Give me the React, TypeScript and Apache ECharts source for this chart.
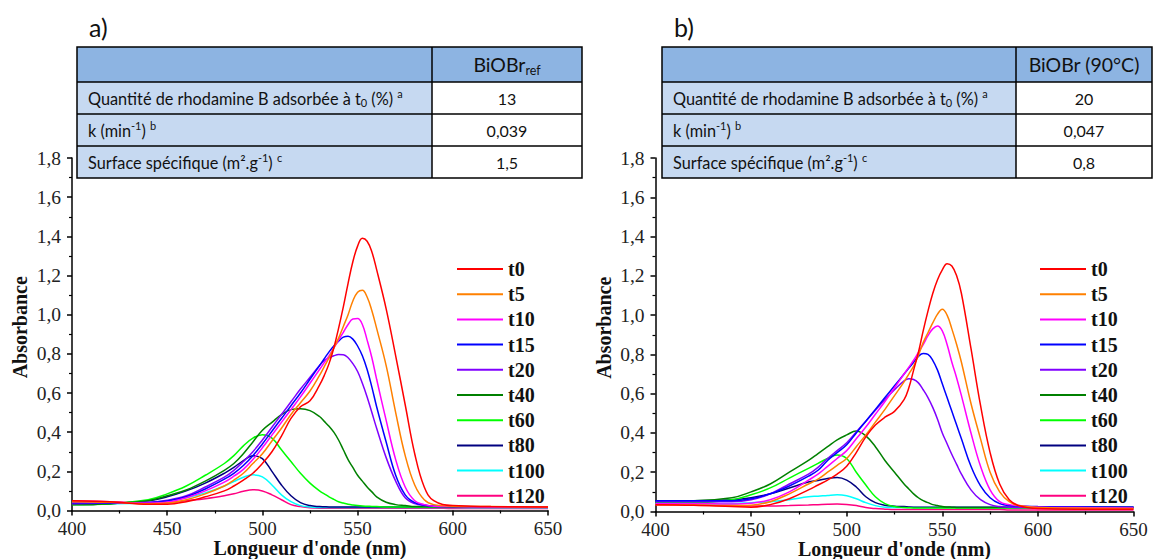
import React, { useEffect, useRef } from 'react';
import * as echarts from 'echarts';

const wavelengths = [400, 420, 440, 450, 460, 470, 480, 485, 490, 495, 500, 505, 510, 515, 520, 525, 530, 532.5, 535, 537.5, 540, 542.5, 545, 547.5, 550, 552.5, 555, 557.5, 560, 565, 570, 575, 580, 585, 590, 600, 620, 650];
const seriesNames = ['t0', 't5', 't10', 't15', 't20', 't40', 't60', 't80', 't100', 't120'];
const seriesColors = ['#FF0000', '#FF8000', '#FF00FF', '#0000FF', '#8000FF', '#008000', '#00FF00', '#000080', '#00FFFF', '#FF0080'];
const yTickLabels = ['0,0', '0,2', '0,4', '0,6', '0,8', '1,0', '1,2', '1,4', '1,6', '1,8'];

// Panel a) BiOBr_ref
const aT0 = [0.05, 0.045, 0.032, 0.032, 0.045, 0.07, 0.1, 0.125, 0.155, 0.19, 0.24, 0.3, 0.38, 0.47, 0.53, 0.56, 0.64,
  0.69, 0.75, 0.83, 0.93, 1.04, 1.16, 1.27, 1.35, 1.39, 1.375, 1.32, 1.23,
  1.03, 0.79, 0.54, 0.29, 0.12, 0.05, 0.025, 0.02, 0.018];
const aT5 = [0.045, 0.042, 0.035, 0.038, 0.055, 0.085, 0.125, 0.155, 0.19, 0.24, 0.29, 0.355, 0.42, 0.49, 0.55, 0.61, 0.69,
  0.735, 0.78, 0.83, 0.88, 0.94, 1.0, 1.07, 1.115, 1.125, 1.09, 1.02, 0.93,
  0.74, 0.5, 0.28, 0.13, 0.055, 0.03, 0.022, 0.02, 0.018];
const aT10 = [0.045, 0.042, 0.038, 0.043, 0.065, 0.1, 0.145, 0.175, 0.21, 0.26, 0.32, 0.385, 0.45, 0.515, 0.58, 0.65, 0.72,
  0.755, 0.79, 0.83, 0.87, 0.91, 0.95, 0.978, 0.98, 0.95, 0.87, 0.78, 0.67,
  0.46, 0.26, 0.12, 0.05, 0.03, 0.022, 0.02, 0.018, 0.016];
const aT15 = [0.04, 0.04, 0.04, 0.048, 0.07, 0.11, 0.16, 0.19, 0.23, 0.28, 0.34, 0.405, 0.47, 0.535, 0.6, 0.67, 0.74,
  0.775, 0.81, 0.84, 0.865, 0.885, 0.89, 0.875, 0.84, 0.79, 0.72, 0.63, 0.53,
  0.35, 0.18, 0.08, 0.04, 0.028, 0.022, 0.02, 0.018, 0.016];
const aT20 = [0.035, 0.038, 0.042, 0.052, 0.075, 0.12, 0.17, 0.205, 0.25, 0.3, 0.36, 0.425, 0.49, 0.555, 0.62, 0.68, 0.74,
  0.765, 0.78, 0.79, 0.796, 0.795, 0.78, 0.75, 0.71, 0.65, 0.58, 0.5, 0.42,
  0.27, 0.15, 0.065, 0.035, 0.025, 0.022, 0.02, 0.018, 0.016];
const aT40 = [0.03, 0.035, 0.05, 0.075, 0.105, 0.15, 0.205, 0.24, 0.29, 0.35, 0.41, 0.45, 0.49, 0.515, 0.52, 0.51, 0.48,
  0.455, 0.43, 0.4, 0.36, 0.31, 0.26, 0.22, 0.18, 0.15, 0.12, 0.095, 0.07,
  0.042, 0.03, 0.025, 0.02, 0.02, 0.02, 0.018, 0.018, 0.016];
const aT60 = [0.03, 0.035, 0.055, 0.085, 0.125, 0.18, 0.24, 0.28, 0.33, 0.37, 0.387, 0.37, 0.31, 0.25, 0.19, 0.14, 0.1,
  0.085, 0.07, 0.057, 0.045, 0.038, 0.032, 0.028, 0.025, 0.023, 0.022, 0.021, 0.02,
  0.018, 0.018, 0.018, 0.018, 0.018, 0.018, 0.018, 0.016, 0.016];
const aT80 = [0.03, 0.035, 0.05, 0.07, 0.1, 0.14, 0.19, 0.22, 0.255, 0.28, 0.265, 0.2, 0.13, 0.075, 0.04, 0.025, 0.02,
  0.019, 0.018, 0.018, 0.018, 0.018, 0.018, 0.018, 0.018, 0.018, 0.018, 0.018, 0.018,
  0.018, 0.018, 0.018, 0.018, 0.018, 0.018, 0.018, 0.016, 0.016];
const aT100 = [0.035, 0.035, 0.04, 0.05, 0.065, 0.09, 0.125, 0.148, 0.17, 0.182, 0.172, 0.13, 0.08, 0.045, 0.025, 0.018, 0.015,
  0.015, 0.015, 0.015, 0.015, 0.015, 0.015, 0.015, 0.015, 0.015, 0.015, 0.015, 0.015,
  0.015, 0.015, 0.015, 0.015, 0.015, 0.015, 0.015, 0.014, 0.014];
const aT120 = [0.05, 0.045, 0.038, 0.04, 0.05, 0.06, 0.075, 0.085, 0.098, 0.106, 0.1, 0.08, 0.055, 0.03, 0.02, 0.014, 0.012,
  0.012, 0.012, 0.012, 0.012, 0.012, 0.012, 0.012, 0.012, 0.012, 0.012, 0.012, 0.012,
  0.012, 0.012, 0.012, 0.012, 0.012, 0.012, 0.01, 0.01, 0.01];

// Panel b) BiOBr (90°C)
const bT0 = [0.035, 0.032, 0.025, 0.022, 0.035, 0.065, 0.11, 0.135, 0.16, 0.19, 0.23, 0.3, 0.38, 0.44, 0.48, 0.51, 0.57,
  0.63, 0.72, 0.81, 0.92, 1.02, 1.11, 1.18, 1.23, 1.262, 1.25, 1.2, 1.11,
  0.83, 0.54, 0.3, 0.14, 0.06, 0.03, 0.015, 0.012, 0.012];
const bT5 = [0.035, 0.033, 0.03, 0.032, 0.05, 0.09, 0.14, 0.165, 0.2, 0.235, 0.27, 0.33, 0.39, 0.455, 0.52, 0.59, 0.66,
  0.7, 0.74, 0.795, 0.86, 0.91, 0.96, 1.005, 1.03, 1.0, 0.93, 0.85, 0.76,
  0.55, 0.37, 0.2, 0.1, 0.05, 0.03, 0.02, 0.018, 0.015];
const bT10 = [0.04, 0.04, 0.038, 0.042, 0.06, 0.1, 0.16, 0.19, 0.23, 0.27, 0.31, 0.37, 0.43, 0.495, 0.56, 0.63, 0.7,
  0.735, 0.77, 0.81, 0.85, 0.895, 0.93, 0.945, 0.92, 0.85, 0.76, 0.68, 0.59,
  0.4, 0.23, 0.11, 0.05, 0.035, 0.03, 0.022, 0.02, 0.018];
const bT15 = [0.055, 0.055, 0.055, 0.065, 0.09, 0.13, 0.18, 0.21, 0.26, 0.3, 0.34, 0.4, 0.46, 0.52, 0.58, 0.64, 0.7,
  0.73, 0.76, 0.79, 0.805, 0.8, 0.77, 0.72, 0.65, 0.58, 0.51, 0.44, 0.37,
  0.23, 0.13, 0.07, 0.04, 0.03, 0.028, 0.025, 0.024, 0.022];
const bT20 = [0.05, 0.05, 0.05, 0.06, 0.09, 0.14, 0.19, 0.225, 0.27, 0.31, 0.35, 0.405, 0.46, 0.515, 0.57, 0.62, 0.665,
  0.676, 0.672, 0.655, 0.62, 0.58, 0.53, 0.47, 0.4, 0.345, 0.29, 0.24, 0.19,
  0.11, 0.06, 0.035, 0.025, 0.022, 0.02, 0.02, 0.02, 0.02];
const bT40 = [0.055, 0.055, 0.07, 0.1, 0.14, 0.2, 0.26, 0.295, 0.33, 0.365, 0.39, 0.41, 0.385, 0.33, 0.26, 0.2, 0.14,
  0.115, 0.09, 0.07, 0.055, 0.045, 0.035, 0.03, 0.025, 0.023, 0.022, 0.021, 0.02,
  0.02, 0.02, 0.02, 0.02, 0.02, 0.02, 0.02, 0.02, 0.02];
const bT60 = [0.045, 0.045, 0.06, 0.085, 0.12, 0.17, 0.22, 0.245, 0.27, 0.288, 0.27, 0.2, 0.135, 0.075, 0.04, 0.025, 0.02,
  0.019, 0.018, 0.018, 0.018, 0.018, 0.018, 0.018, 0.018, 0.018, 0.018, 0.018, 0.018,
  0.018, 0.018, 0.018, 0.018, 0.018, 0.018, 0.018, 0.018, 0.018];
const bT80 = [0.055, 0.055, 0.06, 0.07, 0.09, 0.12, 0.15, 0.158, 0.168, 0.173, 0.16, 0.125, 0.075, 0.045, 0.032, 0.027, 0.025,
  0.023, 0.022, 0.022, 0.022, 0.022, 0.022, 0.022, 0.022, 0.022, 0.022, 0.022, 0.022,
  0.022, 0.022, 0.022, 0.022, 0.022, 0.022, 0.022, 0.022, 0.022];
const bT100 = [0.04, 0.04, 0.04, 0.045, 0.05, 0.06, 0.075, 0.078, 0.082, 0.085, 0.08, 0.065, 0.045, 0.03, 0.022, 0.02, 0.02,
  0.02, 0.02, 0.02, 0.02, 0.02, 0.02, 0.02, 0.02, 0.02, 0.02, 0.02, 0.02,
  0.02, 0.02, 0.02, 0.02, 0.02, 0.02, 0.02, 0.02, 0.02];
const bT120 = [0.035, 0.033, 0.03, 0.028, 0.028, 0.03, 0.033, 0.035, 0.037, 0.038, 0.036, 0.03, 0.02, 0.015, 0.012, 0.01, 0.01,
  0.01, 0.01, 0.01, 0.01, 0.01, 0.01, 0.01, 0.01, 0.01, 0.01, 0.01, 0.01,
  0.01, 0.01, 0.01, 0.01, 0.008, 0.008, 0.008, 0.008, 0.008];

const panelA = [aT0, aT5, aT10, aT15, aT20, aT40, aT60, aT80, aT100, aT120];
const panelB = [bT0, bT5, bT10, bT15, bT20, bT40, bT60, bT80, bT100, bT120];

const tableRowLabels = [
  '{n|Quantité de rhodamine B adsorbée à t}{sub|0}{n| (%) }{sup|a}',
  '{n|k (min}{sup|-1}{n|) }{sup|b}',
  '{n|Surface spécifique (m²}{n|.g}{sup|-1}{n|) }{sup|c}',
];
const tableAValues = ['13', '0,039', '1,5'];
const tableBValues = ['20', '0,047', '0,8'];
const tableAHeader = '{h|BiOBr}{hs|ref}';
const tableBHeader = '{h|BiOBr (90°C)}';

const SERIF = "'Liberation Serif', 'Times New Roman', serif";
const SANS = "Lato, 'Liberation Sans', sans-serif";

const richStyles = {
  n: { fontSize: 16.3, fontFamily: SANS, lineHeight: 20, fill: '#111', verticalAlign: 'middle' },
  sub: { fontSize: 11, fontFamily: SANS, fill: '#111', verticalAlign: 'bottom' },
  sup: { fontSize: 11, fontFamily: SANS, fill: '#111', verticalAlign: 'top' },
  h: { fontSize: 19.5, fontFamily: SANS, lineHeight: 24, fill: '#111', verticalAlign: 'middle' },
  hs: { fontSize: 12.5, fontFamily: SANS, fill: '#111', verticalAlign: 'bottom' },
};

function makeTable(x0: number, xd: number, x1: number, header: string, values: string[], label: string) {
  const top = 47, hb = 82, bottom = 178;
  const rowH = (bottom - hb) / 3;
  const els: any[] = [];
  els.push({ type: 'text', style: { text: label, x: x0 + 12, y: 27, fontSize: 25, fontFamily: SANS, fill: '#111', verticalAlign: 'middle' } });
  els.push({ type: 'rect', shape: { x: x0, y: top, width: x1 - x0, height: hb - top }, style: { fill: '#8DB4E2' } });
  els.push({ type: 'rect', shape: { x: x0, y: hb, width: xd - x0, height: bottom - hb }, style: { fill: '#C6D9F1' } });
  els.push({ type: 'rect', shape: { x: xd, y: hb, width: x1 - xd, height: bottom - hb }, style: { fill: '#FFFFFF' } });
  for (let i = 0; i < 3; i++) {
    const y = hb + i * rowH;
    els.push({ type: 'line', shape: { x1: x0, y1: y, x2: x1, y2: y }, style: { stroke: '#000', lineWidth: 1.5 } });
    els.push({ type: 'text', style: { text: tableRowLabels[i], x: x0 + 11, y: y + rowH / 2, verticalAlign: 'middle', align: 'left', rich: richStyles } });
    els.push({ type: 'text', style: { text: values[i], x: (xd + x1) / 2, y: y + rowH / 2, verticalAlign: 'middle', align: 'center', fontSize: 16, fontFamily: SANS, fill: '#111' } });
  }
  els.push({ type: 'line', shape: { x1: xd, y1: top, x2: xd, y2: bottom }, style: { stroke: '#000', lineWidth: 1.5 } });
  els.push({ type: 'rect', shape: { x: x0, y: top, width: x1 - x0, height: bottom - top }, style: { fill: 'none', stroke: '#000', lineWidth: 1.5 } });
  els.push({ type: 'text', style: { text: header, x: (xd + x1) / 2, y: (top + hb) / 2, verticalAlign: 'middle', align: 'center', rich: richStyles } });
  return els;
}

function axisPair(gridIndex: number) {
  const x = {
    type: 'value', gridIndex, min: 400, max: 650, interval: 50,
    name: "Longueur d'onde (nm)", nameLocation: 'middle', nameGap: 27, nameMoveOverlap: false,
    nameTextStyle: { fontFamily: SERIF, fontWeight: 'bold', fontSize: 20, color: '#111' },
    axisLine: { show: true, onZero: false, lineStyle: { color: '#000', width: 1.5 } },
    axisTick: { show: true, length: 5, lineStyle: { color: '#000', width: 1.5 } },
    minorTick: { show: true, splitNumber: 2, length: 3, lineStyle: { color: '#000', width: 1.2 } },
    splitLine: { show: false },
    axisLabel: { fontFamily: SERIF, fontSize: 19, color: '#222', margin: 8 },
  };
  const y = {
    type: 'value', gridIndex, min: 0, max: 1.8, interval: 0.2,
    name: 'Absorbance', nameLocation: 'middle', nameGap: 42, nameMoveOverlap: false,
    nameTextStyle: { fontFamily: SERIF, fontWeight: 'bold', fontSize: 20, color: '#111', padding: [0, 0, 0, 14] },
    axisLine: { show: true, onZero: false, lineStyle: { color: '#000', width: 1.5 } },
    axisTick: { show: true, length: 5, lineStyle: { color: '#000', width: 1.5 } },
    minorTick: { show: true, splitNumber: 2, length: 3, lineStyle: { color: '#000', width: 1.2 } },
    splitLine: { show: false },
    axisLabel: {
      fontFamily: SERIF, fontSize: 19.5, color: '#222', margin: 11,
      formatter: (v: number) => yTickLabels[Math.round(v / 0.2)],
    },
  };
  return { x, y };
}

export default function App() {
  const ref = useRef<HTMLDivElement>(null);
  useEffect(() => {
    if (!ref.current) return;
    const chart = echarts.init(ref.current, null, { renderer: 'svg' });
    const a = axisPair(0);
    const b = axisPair(1);
    const series: any[] = [];
    [panelA, panelB].forEach((panel, gi) => {
      panel.forEach((vals, i) => {
        series.push({
          type: 'line', name: seriesNames[i], xAxisIndex: gi, yAxisIndex: gi,
          data: wavelengths.map((w, k) => [w, vals[k]]),
          smooth: 0.4, symbol: 'none', showSymbol: false,
          lineStyle: { color: seriesColors[i], width: 1.5 },
          itemStyle: { color: seriesColors[i] },
          z: 20 - i,
        });
      });
    });
    const legendBase = {
      orient: 'vertical', top: 254, itemWidth: 46, itemHeight: 2, itemGap: 5.2,
      icon: 'rect',
      textStyle: { fontFamily: SERIF, fontWeight: 'bold', fontSize: 20, color: '#111', lineHeight: 20 },
      data: seriesNames,
      selectedMode: false,
    };
    chart.setOption({
      animation: false,
      backgroundColor: '#fff',
      grid: [
        { left: 72, top: 158, width: 476, height: 352.5, outerBoundsMode: 'none', containLabel: false },
        { left: 655.5, top: 158, width: 478, height: 353.5, outerBoundsMode: 'none', containLabel: false },
      ],
      xAxis: [a.x, b.x],
      yAxis: [a.y, b.y],
      legend: [
        { ...legendBase, left: 452 },
        { ...legendBase, left: 1035 },
      ],
      series,
      graphic: [
        ...makeTable(77, 432, 582, tableAHeader, tableAValues, 'a)'),
        ...makeTable(662, 1016, 1152, tableBHeader, tableBValues, 'b)'),
      ],
    });
    return () => chart.dispose();
  }, []);
  return <div ref={ref} style={{ position: 'absolute', left: 0, top: 0, width: 1154, height: 559 }} />;
}
